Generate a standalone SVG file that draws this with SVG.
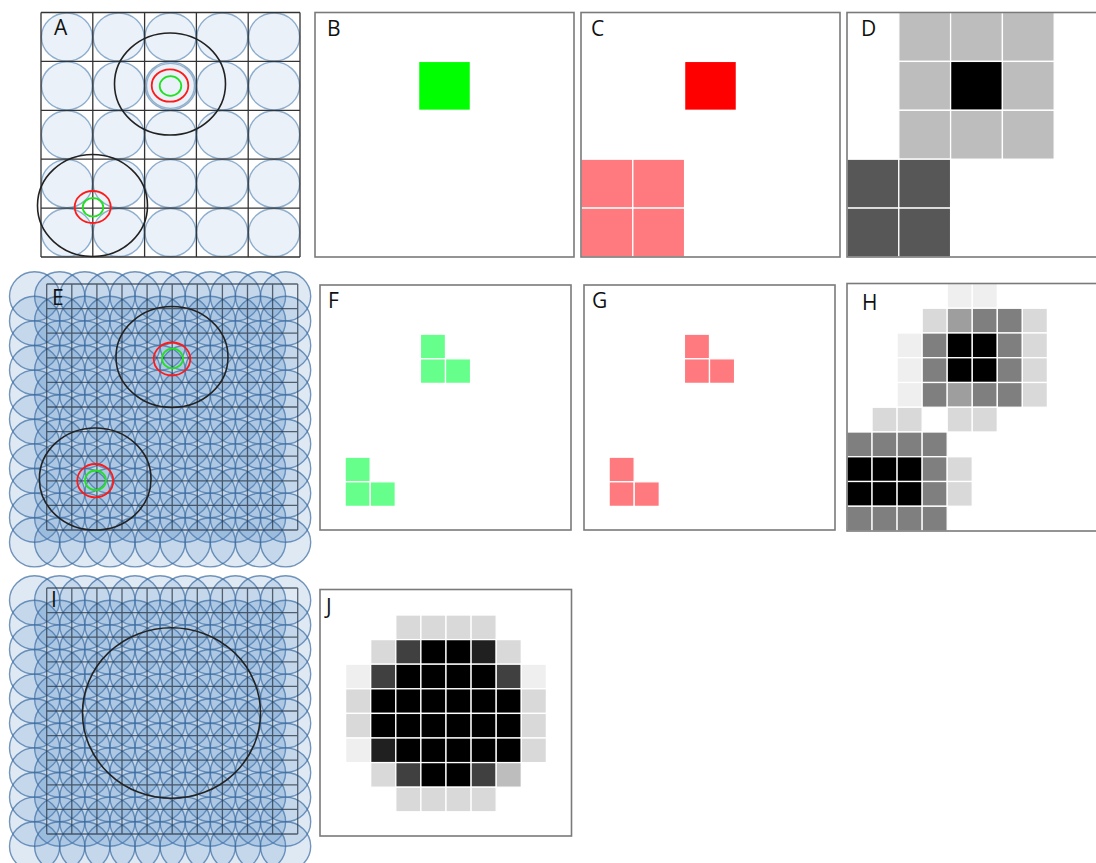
<svg xmlns="http://www.w3.org/2000/svg" xmlns:xlink="http://www.w3.org/1999/xlink" width="1096" height="863" viewBox="0 0 1096 863">
<style>
.lbl{font-family:"Open Sans","Liberation Sans",sans-serif;font-size:21px;fill:#111}
.frame{fill:none;stroke:#7a7a7a;stroke-width:1.6}
.cell rect{stroke:#ffffff;stroke-width:1.3}
.pc{fill:#4f86c2;fill-opacity:0.18;stroke:#3a6b9f;stroke-opacity:0.7;stroke-width:1.4}
.ac{fill:#5b8fc7;fill-opacity:0.13;stroke:#4f7fb0;stroke-opacity:0.62;stroke-width:1.4}
.grid{fill:none;stroke:#333;stroke-width:1.3}
.egrid{fill:none;stroke:#2a3644;stroke-opacity:0.75;stroke-width:1.3}
.blk{fill:none;stroke:#222;stroke-width:1.6}
.red{fill:none;stroke:#ff1a1a;stroke-width:1.8}
.grn{fill:none;stroke:#22e022;stroke-width:1.8}
.k{fill:#000}.g1{fill:#efefef}.g2{fill:#d9d9d9}.g3{fill:#bdbdbd}.g4{fill:#9e9e9e}.g5{fill:#7f7f7f}.g6{fill:#575757}.g7{fill:#404040}.g8{fill:#202020}
.gr{fill:#00ff00}.rd{fill:#ff0000}.pk{fill:#ff7a7e}.lg{fill:#66ff8c}
</style>
<defs>
<g id="crow" class="pc">
<ellipse cx="34.6" cy="0" rx="25.1" ry="24.6"/><ellipse cx="59.7" cy="0" rx="25.1" ry="24.6"/><ellipse cx="84.8" cy="0" rx="25.1" ry="24.6"/><ellipse cx="109.9" cy="0" rx="25.1" ry="24.6"/><ellipse cx="135" cy="0" rx="25.1" ry="24.6"/><ellipse cx="160.1" cy="0" rx="25.1" ry="24.6"/><ellipse cx="185.2" cy="0" rx="25.1" ry="24.6"/><ellipse cx="210.3" cy="0" rx="25.1" ry="24.6"/><ellipse cx="235.4" cy="0" rx="25.1" ry="24.6"/><ellipse cx="260.5" cy="0" rx="25.1" ry="24.6"/><ellipse cx="285.6" cy="0" rx="25.1" ry="24.6"/>
</g>
<g id="arow" class="ac">
<ellipse cx="66.9" cy="0" rx="25.5" ry="24"/><ellipse cx="118.7" cy="0" rx="25.5" ry="24"/><ellipse cx="170.5" cy="0" rx="25.5" ry="24"/><ellipse cx="222.3" cy="0" rx="25.5" ry="24"/><ellipse cx="274.1" cy="0" rx="25.5" ry="24"/>
</g>
<g id="ecirc">
<use xlink:href="#crow" y="296.3"/><use xlink:href="#crow" y="320.9"/><use xlink:href="#crow" y="345.5"/><use xlink:href="#crow" y="370.1"/><use xlink:href="#crow" y="394.7"/><use xlink:href="#crow" y="419.3"/><use xlink:href="#crow" y="443.9"/><use xlink:href="#crow" y="468.5"/><use xlink:href="#crow" y="493.1"/><use xlink:href="#crow" y="517.7"/><use xlink:href="#crow" y="542.3"/>
</g>
<path id="egridp" class="egrid" d="M46.7 284V530M71.8 284V530M96.9 284V530M122 284V530M147.1 284V530M172.2 284V530M197.3 284V530M222.4 284V530M247.5 284V530M272.6 284V530M297.7 284V530M46.7 284H297.7M46.7 308.6H297.7M46.7 333.2H297.7M46.7 357.8H297.7M46.7 382.4H297.7M46.7 407H297.7M46.7 431.6H297.7M46.7 456.2H297.7M46.7 480.8H297.7M46.7 505.4H297.7M46.7 530H297.7"/>
</defs>

<g id="panelA">
<rect x="41" y="12.5" width="259" height="244.5" fill="#fff"/>
<use xlink:href="#arow" y="36.95"/><use xlink:href="#arow" y="85.85"/><use xlink:href="#arow" y="134.75"/><use xlink:href="#arow" y="183.65"/><use xlink:href="#arow" y="232.55"/>
<ellipse cx="170.5" cy="85.85" rx="24" ry="22.5" fill="none" stroke="#5b85b0" stroke-opacity="0.6" stroke-width="1.4"/>
<path class="grid" d="M41 12.5V257M92.8 12.5V257M144.6 12.5V257M196.4 12.5V257M248.2 12.5V257M300 12.5V257M41 12.5H300M41 61.4H300M41 110.3H300M41 159.2H300M41 208.1H300M41 257H300"/>
<ellipse class="blk" cx="170" cy="84" rx="55.5" ry="51"/>
<ellipse class="red" cx="170" cy="85.5" rx="18.3" ry="16.2"/>
<ellipse class="grn" cx="170.5" cy="86" rx="10.8" ry="9.8"/>
<ellipse class="blk" cx="92.5" cy="205.5" rx="55" ry="51"/>
<ellipse class="red" cx="92.7" cy="207" rx="18" ry="16"/>
<ellipse class="grn" cx="93" cy="207.3" rx="10.3" ry="9.3"/>
<text class="lbl" x="54" y="35">A</text>
</g>

<g id="panelB">
<rect class="frame" x="315" y="12.5" width="259" height="244.5"/>
<g class="cell"><rect class="gr" x="418.6" y="61.4" width="51.8" height="48.9"/></g>
<text class="lbl" x="327" y="36">B</text>
</g>

<g id="panelC">
<g class="cell">
<rect class="rd" x="684.6" y="61.4" width="51.8" height="48.9"/>
<rect class="pk" x="581" y="159.2" width="51.8" height="48.9"/><rect class="pk" x="632.8" y="159.2" width="51.8" height="48.9"/>
<rect class="pk" x="581" y="208.1" width="51.8" height="48.9"/><rect class="pk" x="632.8" y="208.1" width="51.8" height="48.9"/>
</g>
<rect class="frame" x="581" y="12.5" width="259" height="244.5"/>
<text class="lbl" x="591" y="36">C</text>
</g>

<g id="panelD">
<g class="cell">
<rect class="g3" x="898.8" y="12.5" width="51.8" height="48.9"/><rect class="g3" x="950.6" y="12.5" width="51.8" height="48.9"/><rect class="g3" x="1002.4" y="12.5" width="51.8" height="48.9"/>
<rect class="g3" x="898.8" y="61.4" width="51.8" height="48.9"/><rect class="k" x="950.6" y="61.4" width="51.8" height="48.9"/><rect class="g3" x="1002.4" y="61.4" width="51.8" height="48.9"/>
<rect class="g3" x="898.8" y="110.3" width="51.8" height="48.9"/><rect class="g3" x="950.6" y="110.3" width="51.8" height="48.9"/><rect class="g3" x="1002.4" y="110.3" width="51.8" height="48.9"/>
<rect class="g6" x="847" y="159.2" width="51.8" height="48.9"/><rect class="g6" x="898.8" y="159.2" width="51.8" height="48.9"/>
<rect class="g6" x="847" y="208.1" width="51.8" height="48.9"/><rect class="g6" x="898.8" y="208.1" width="51.8" height="48.9"/>
</g>
<rect class="frame" x="847" y="12.5" width="259" height="244.5"/>
<text class="lbl" x="861" y="36">D</text>
</g>

<g id="panelE">
<use xlink:href="#ecirc"/>
<use xlink:href="#egridp"/>
<ellipse class="blk" cx="172" cy="357" rx="56" ry="50.5"/>
<ellipse class="red" cx="172" cy="359" rx="18.3" ry="16.5"/>
<ellipse class="grn" cx="172.5" cy="358.5" rx="10.5" ry="9.8"/>
<ellipse class="blk" cx="95.2" cy="479" rx="55.8" ry="51"/>
<ellipse class="red" cx="95.3" cy="480.7" rx="18" ry="16.7"/>
<ellipse class="grn" cx="95.5" cy="480.3" rx="10.5" ry="9.8"/>
<text class="lbl" x="52" y="305">E</text>
</g>

<g id="panelF">
<rect class="frame" x="320" y="285" width="251" height="245"/>
<g class="cell">
<rect class="lg" x="420.4" y="334.2" width="25.1" height="24.6"/><rect class="lg" x="420.4" y="358.8" width="25.1" height="24.6"/><rect class="lg" x="445.5" y="358.8" width="25.1" height="24.6"/>
<rect class="lg" x="345.1" y="457.2" width="25.1" height="24.6"/><rect class="lg" x="345.1" y="481.8" width="25.1" height="24.6"/><rect class="lg" x="370.2" y="481.8" width="25.1" height="24.6"/>
</g>
<text class="lbl" x="328" y="308">F</text>
</g>

<g id="panelG">
<rect class="frame" x="584" y="285" width="251" height="245"/>
<g class="cell">
<rect class="pk" x="684.4" y="334.2" width="25.1" height="24.6"/><rect class="pk" x="684.4" y="358.8" width="25.1" height="24.6"/><rect class="pk" x="709.5" y="358.8" width="25.1" height="24.6"/>
<rect class="pk" x="609.1" y="457.2" width="25.1" height="24.6"/><rect class="pk" x="609.1" y="481.8" width="25.1" height="24.6"/><rect class="pk" x="634.2" y="481.8" width="25.1" height="24.6"/>
</g>
<text class="lbl" x="592" y="308">G</text>
</g>

<g id="panelH">
<g class="cell">
<rect class="g1" x="947.2" y="283.5" width="25.05" height="24.75"/><rect class="g1" x="972.25" y="283.5" width="25.05" height="24.75"/>
<rect class="g2" x="922.15" y="308.25" width="25.05" height="24.75"/><rect class="g4" x="947.2" y="308.25" width="25.05" height="24.75"/><rect class="g5" x="972.25" y="308.25" width="25.05" height="24.75"/><rect class="g5" x="997.3" y="308.25" width="25.05" height="24.75"/><rect class="g2" x="1022.35" y="308.25" width="25.05" height="24.75"/>
<rect class="g1" x="897.1" y="333" width="25.05" height="24.75"/><rect class="g5" x="922.15" y="333" width="25.05" height="24.75"/><rect class="k" x="947.2" y="333" width="25.05" height="24.75"/><rect class="k" x="972.25" y="333" width="25.05" height="24.75"/><rect class="g5" x="997.3" y="333" width="25.05" height="24.75"/><rect class="g2" x="1022.35" y="333" width="25.05" height="24.75"/>
<rect class="g1" x="897.1" y="357.75" width="25.05" height="24.75"/><rect class="g5" x="922.15" y="357.75" width="25.05" height="24.75"/><rect class="k" x="947.2" y="357.75" width="25.05" height="24.75"/><rect class="k" x="972.25" y="357.75" width="25.05" height="24.75"/><rect class="g5" x="997.3" y="357.75" width="25.05" height="24.75"/><rect class="g2" x="1022.35" y="357.75" width="25.05" height="24.75"/>
<rect class="g1" x="897.1" y="382.5" width="25.05" height="24.75"/><rect class="g5" x="922.15" y="382.5" width="25.05" height="24.75"/><rect class="g4" x="947.2" y="382.5" width="25.05" height="24.75"/><rect class="g5" x="972.25" y="382.5" width="25.05" height="24.75"/><rect class="g5" x="997.3" y="382.5" width="25.05" height="24.75"/><rect class="g2" x="1022.35" y="382.5" width="25.05" height="24.75"/>
<rect class="g2" x="872.05" y="407.25" width="25.05" height="24.75"/><rect class="g2" x="897.1" y="407.25" width="25.05" height="24.75"/><rect class="g2" x="947.2" y="407.25" width="25.05" height="24.75"/><rect class="g2" x="972.25" y="407.25" width="25.05" height="24.75"/>
<rect class="g5" x="847" y="432" width="25.05" height="24.75"/><rect class="g5" x="872.05" y="432" width="25.05" height="24.75"/><rect class="g5" x="897.1" y="432" width="25.05" height="24.75"/><rect class="g5" x="922.15" y="432" width="25.05" height="24.75"/>
<rect class="k" x="847" y="456.75" width="25.05" height="24.75"/><rect class="k" x="872.05" y="456.75" width="25.05" height="24.75"/><rect class="k" x="897.1" y="456.75" width="25.05" height="24.75"/><rect class="g5" x="922.15" y="456.75" width="25.05" height="24.75"/><rect class="g2" x="947.2" y="456.75" width="25.05" height="24.75"/>
<rect class="k" x="847" y="481.5" width="25.05" height="24.75"/><rect class="k" x="872.05" y="481.5" width="25.05" height="24.75"/><rect class="k" x="897.1" y="481.5" width="25.05" height="24.75"/><rect class="g5" x="922.15" y="481.5" width="25.05" height="24.75"/><rect class="g2" x="947.2" y="481.5" width="25.05" height="24.75"/>
<rect class="g5" x="847" y="506.25" width="25.05" height="24.75"/><rect class="g5" x="872.05" y="506.25" width="25.05" height="24.75"/><rect class="g5" x="897.1" y="506.25" width="25.05" height="24.75"/><rect class="g5" x="922.15" y="506.25" width="25.05" height="24.75"/>
</g>
<rect class="frame" x="847" y="283.5" width="260" height="247.5"/>
<text class="lbl" x="862" y="310">H</text>
</g>

<g id="panelI">
<use xlink:href="#ecirc" y="304"/>
<use xlink:href="#egridp" y="304"/>
<ellipse class="blk" cx="171.5" cy="713" rx="89" ry="85.3"/>
<text class="lbl" x="51" y="607">I</text>
</g>

<g id="panelJ">
<rect class="frame" x="320" y="589.5" width="251.5" height="246.5"/>
<g class="cell">
<rect class="g2" x="395.8" y="615" width="25.1" height="24.6"/><rect class="g2" x="420.9" y="615" width="25.1" height="24.6"/><rect class="g2" x="446" y="615" width="25.1" height="24.6"/><rect class="g2" x="471.1" y="615" width="25.1" height="24.6"/>
<rect class="g2" x="370.7" y="639.6" width="25.1" height="24.6"/><rect class="g7" x="395.8" y="639.6" width="25.1" height="24.6"/><rect class="k" x="420.9" y="639.6" width="25.1" height="24.6"/><rect class="k" x="446" y="639.6" width="25.1" height="24.6"/><rect class="g8" x="471.1" y="639.6" width="25.1" height="24.6"/><rect class="g2" x="496.2" y="639.6" width="25.1" height="24.6"/>
<rect class="g1" x="345.6" y="664.2" width="25.1" height="24.6"/><rect class="g7" x="370.7" y="664.2" width="25.1" height="24.6"/><rect class="k" x="395.8" y="664.2" width="25.1" height="24.6"/><rect class="k" x="420.9" y="664.2" width="25.1" height="24.6"/><rect class="k" x="446" y="664.2" width="25.1" height="24.6"/><rect class="k" x="471.1" y="664.2" width="25.1" height="24.6"/><rect class="g7" x="496.2" y="664.2" width="25.1" height="24.6"/><rect class="g1" x="521.3" y="664.2" width="25.1" height="24.6"/>
<rect class="g2" x="345.6" y="688.8" width="25.1" height="24.6"/><rect class="k" x="370.7" y="688.8" width="25.1" height="24.6"/><rect class="k" x="395.8" y="688.8" width="25.1" height="24.6"/><rect class="k" x="420.9" y="688.8" width="25.1" height="24.6"/><rect class="k" x="446" y="688.8" width="25.1" height="24.6"/><rect class="k" x="471.1" y="688.8" width="25.1" height="24.6"/><rect class="k" x="496.2" y="688.8" width="25.1" height="24.6"/><rect class="g2" x="521.3" y="688.8" width="25.1" height="24.6"/>
<rect class="g2" x="345.6" y="713.4" width="25.1" height="24.6"/><rect class="k" x="370.7" y="713.4" width="25.1" height="24.6"/><rect class="k" x="395.8" y="713.4" width="25.1" height="24.6"/><rect class="k" x="420.9" y="713.4" width="25.1" height="24.6"/><rect class="k" x="446" y="713.4" width="25.1" height="24.6"/><rect class="k" x="471.1" y="713.4" width="25.1" height="24.6"/><rect class="k" x="496.2" y="713.4" width="25.1" height="24.6"/><rect class="g2" x="521.3" y="713.4" width="25.1" height="24.6"/>
<rect class="g1" x="345.6" y="738" width="25.1" height="24.6"/><rect class="g8" x="370.7" y="738" width="25.1" height="24.6"/><rect class="k" x="395.8" y="738" width="25.1" height="24.6"/><rect class="k" x="420.9" y="738" width="25.1" height="24.6"/><rect class="k" x="446" y="738" width="25.1" height="24.6"/><rect class="k" x="471.1" y="738" width="25.1" height="24.6"/><rect class="k" x="496.2" y="738" width="25.1" height="24.6"/><rect class="g2" x="521.3" y="738" width="25.1" height="24.6"/>
<rect class="g2" x="370.7" y="762.6" width="25.1" height="24.6"/><rect class="g7" x="395.8" y="762.6" width="25.1" height="24.6"/><rect class="k" x="420.9" y="762.6" width="25.1" height="24.6"/><rect class="k" x="446" y="762.6" width="25.1" height="24.6"/><rect class="g7" x="471.1" y="762.6" width="25.1" height="24.6"/><rect class="g3" x="496.2" y="762.6" width="25.1" height="24.6"/>
<rect class="g2" x="395.8" y="787.2" width="25.1" height="24.6"/><rect class="g2" x="420.9" y="787.2" width="25.1" height="24.6"/><rect class="g2" x="446" y="787.2" width="25.1" height="24.6"/><rect class="g2" x="471.1" y="787.2" width="25.1" height="24.6"/>
</g>
<text class="lbl" x="326" y="614">J</text>
</g>
</svg>
